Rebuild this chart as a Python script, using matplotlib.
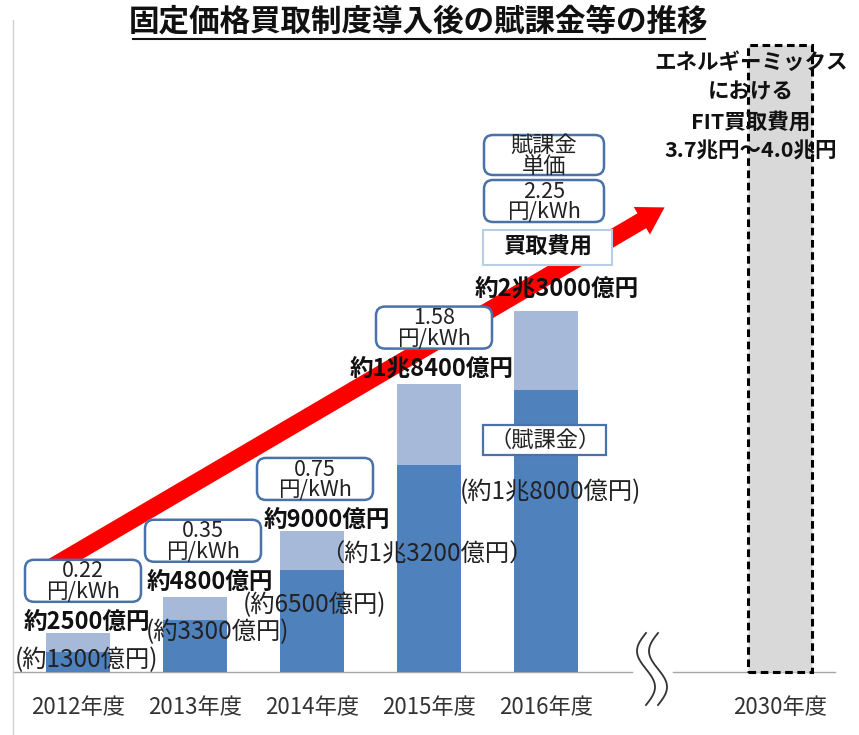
import numpy as np
import matplotlib
matplotlib.use('Agg')
import matplotlib.pyplot as plt
from matplotlib.patches import FancyBboxPatch, FancyArrowPatch

plt.rcParams['font.family'] = ['Noto Sans CJK JP', 'DejaVu Sans']

# データ（単位：億円）
years = ['2012年度', '2013年度', '2014年度', '2015年度', '2016年度']
purchase_cost = [2500, 4800, 9000, 18400, 23000]
levy = [1300, 3300, 6500, 13200, 18000]
unit_price = ['0.22', '0.35', '0.75', '1.58', '2.25']
cost_labels = ['約2500億円', '約4800億円', '約9000億円', '約1兆8400億円', '約2兆3000億円']
levy_labels = ['(約1300億円)', '(約3300億円)', '(約6500億円)', '（約1兆3200億円）', '(約1兆8000億円)']
target_year = '2030年度'
target_cost = 40000
target_text = 'エネルギーミックス\nにおける\nFIT買取費用\n3.7兆円～4.0兆円'

DARK = '#4F81BD'
LIGHT = '#A7B9D8'
EDGE = '#4A72A8'

# ピクセル <-> データ座標の換算
PX_X0, PX_PER_X = 78, 117
PX_Y0, Y_PER_PX = 672, 63.8


def px(xp, yp):
    return (xp - PX_X0) / PX_PER_X, (PX_Y0 - yp) * Y_PER_PX


fig = plt.figure(figsize=(8.59, 7.35), dpi=100)
ax = fig.add_axes([0, 0, 1, 1])
ax.set_xlim(px(0, 0)[0], px(859, 0)[0])
ax.set_ylim(px(0, 735)[1], px(0, 0)[1])
ax.axis('off')

x = np.arange(len(years))
bar_w = 0.54

# 棒グラフ（買取費用と賦課金）
ax.bar(x, purchase_cost, width=bar_w, color=LIGHT, zorder=2)
ax.bar(x, levy, width=bar_w, color=DARK, zorder=2)

# 2030年度（破線の枠）
x_target = len(years) + 1
ax.bar([x_target], [target_cost], width=0.55, color='#D9D9D9', edgecolor='black',
       linestyle=(0, (2.5, 1.5)), linewidth=2.2, zorder=2)


def box(cx, cy, w, h, rounded=True, ec=EDGE, lw=1.8):
    x0, y0 = px(cx - w / 2, cy + h / 2)
    x1, y1 = px(cx + w / 2, cy - h / 2)
    style = 'round,pad=0,rounding_size=%f' % (9 / PX_PER_X) if rounded else 'square,pad=0'
    p = FancyBboxPatch((x0, y0), x1 - x0, y1 - y0, boxstyle=style,
                       mutation_aspect=Y_PER_PX * PX_PER_X,
                       fc='white', ec=ec, lw=lw, zorder=4)
    ax.add_patch(p)


# 赤い矢印（左端は2012年度の枠の下に隠れる）
arrow = FancyArrowPatch(px(45, 571), px(667, 206),
                        arrowstyle='simple,head_length=0.95,head_width=1.15,tail_width=0.62',
                        mutation_scale=20, color='#FF0000', lw=0, zorder=3)
ax.add_patch(arrow)

# 買取費用ラベル
cost_dy = [11, 15, 11, 15, 23]
cost_dx = [9, 15, 15, 3, 11]
for i, lab in enumerate(cost_labels):
    top_px = PX_Y0 - purchase_cost[i] / Y_PER_PX
    cx = PX_X0 + PX_PER_X * i + cost_dx[i]
    cy = top_px - cost_dy[i]
    ax.text(*px(cx, cy), lab, ha='center', va='center', fontsize=17,
            fontweight='bold', color='#111111', zorder=5)
    # 賦課金単価の枠
    if i < 4:
        bxp = PX_X0 + PX_PER_X * i + [5, 8, 3, 5][i]
        byp = cy - 41
        box(bxp, byp, 116, 42)
        ax.text(*px(bxp, byp + 1), unit_price[i] + '\n円/kWh', ha='center', va='center',
                fontsize=15.5, linespacing=0.92, color='#222222', zorder=5)

# 2016年度の凡例的な枠
c16 = PX_X0 + PX_PER_X * 4 - 2
box(c16, 155, 120, 40)
ax.text(*px(c16, 156), '賦課金\n単価', ha='center', va='center', fontsize=16,
        linespacing=0.88, color='#222222', zorder=5)
box(c16, 201, 120, 42)
ax.text(*px(c16, 202), unit_price[4] + '\n円/kWh', ha='center', va='center',
        fontsize=15.5, linespacing=0.92, color='#222222', zorder=5)
box(c16 + 4, 247, 129, 35, rounded=False, ec='#B9CDE5', lw=1.5)
ax.text(*px(c16 + 4, 247), '買取費用', ha='center', va='center', fontsize=16,
        fontweight='bold', color='#111111', zorder=5)

box(c16 + 1, 440, 123, 30, rounded=False, lw=1.6)
ax.text(*px(c16 + 1, 440), '（賦課金）', ha='center', va='center', fontsize=16,
        color='#222222', zorder=5)

# 賦課金ラベル
levy_pos = [(87, 660), (218, 632), (315, 605), (427, 555), (550, 492)]
for (lx, ly), lab in zip(levy_pos, levy_labels):
    ax.text(*px(lx, ly), lab, ha='center', va='center', fontsize=17.5,
            color='#222222', zorder=5)

# 2030年度のテキスト
ax.text(*px(751, 107), target_text, ha='center', va='center', fontsize=15.5,
        fontweight='bold', linespacing=1.5, color='#111111', zorder=6)

# 横軸と省略記号
ax.plot(*zip(px(13, 672), px(632, 672)), color='#A6A6A6', lw=1, zorder=1)
ax.plot(*zip(px(673, 672), px(835, 672)), color='#A6A6A6', lw=1, zorder=1)
t = np.linspace(0, 1, 100)
for off in (0, 12):
    xs = 646 + off - 9 * np.sin(2 * np.pi * t)
    ys = 633 + 72 * t
    pts = [px(a, b) for a, b in zip(xs, ys)]
    ax.plot([p[0] for p in pts], [p[1] for p in pts], color='#333333', lw=1.3, zorder=3)

# 左端の縦線
ax.plot(*zip(px(13, 20), px(13, 735)), color='#D0D0D0', lw=1, zorder=1)

# 年度ラベル
for i, y in enumerate(years):
    ax.text(i, px(0, 708)[1], y, ha='center', va='center', fontsize=16, color='#333333')
ax.text(x_target, px(0, 708)[1], target_year, ha='center', va='center', fontsize=16,
        color='#333333')

# タイトル（下線付き）
ax.text(*px(419, 21), '固定価格買取制度導入後の賦課金等の推移', ha='center', va='center',
        fontsize=22, fontweight='bold', color='#111111')
ax.plot(*zip(px(133, 39), px(705, 39)), color='#111111', lw=1.5)

plt.savefig('out.png', dpi=100)
